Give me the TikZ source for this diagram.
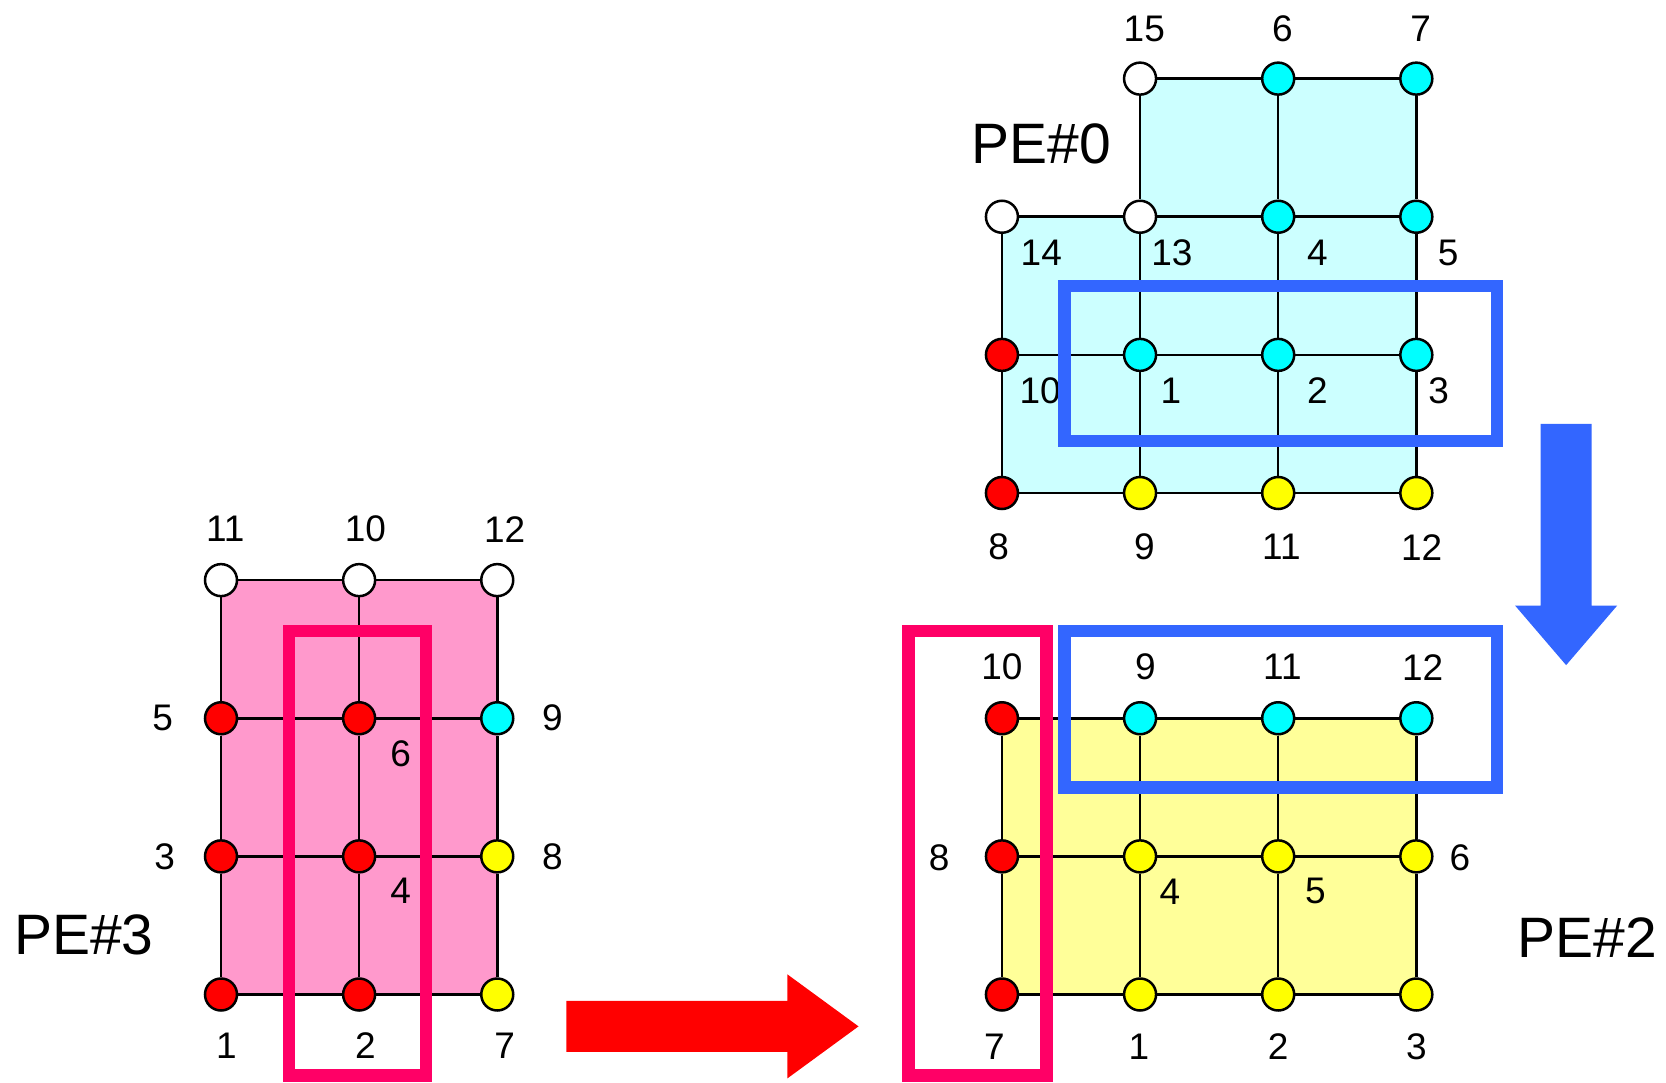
\documentclass[tikz,border=0pt]{standalone}
\usepackage{fontspec}
\setmainfont{Liberation Sans}
\usepackage{xcolor}
\definecolor{cyanfill}{HTML}{CCFFFF}
\definecolor{yelfill}{HTML}{FFFF99}
\definecolor{pinkfill}{HTML}{FF99CC}
\definecolor{pinkline}{HTML}{FF0066}
\definecolor{blueline}{HTML}{3366FF}
\definecolor{vcyan}{HTML}{00FFFF}
\definecolor{vyellow}{HTML}{FFFF00}
\definecolor{vred}{HTML}{FF0000}
\tikzset{
  vtx/.style={circle, draw, line width=2.5pt, minimum size=32pt, inner sep=0pt},
  mesh/.style={line width=2.5pt},
  num/.style={font=\fontsize{37}{40}\selectfont, inner sep=0pt},
  pelabel/.style={font=\fontsize{57}{60}\selectfont, inner sep=0pt},
  sendbox/.style={draw=pinkline, line width=12.5pt},
  recvbox/.style={draw=blueline, line width=12.5pt},
}

\begin{document}
\begin{tikzpicture}[x=1.0625pt, y=-1.0625pt]
  \useasboundingbox (0,0) rectangle (1568,1019);
  \fill[cyanfill] (943,204) -- (1073,204) -- (1073,74) -- (1333,74) -- (1333,464) -- (943,464) -- cycle;
  \fill[yelfill] (943,676) rectangle (1333,936);
  \fill[pinkfill] (208,546) rectangle (468,936);

  \foreach \x/\y/\n/\c in {1073/74/15/white, 1203/74/6/vcyan, 1333/74/7/vcyan,
      943/204/14/white, 1073/204/13/white, 1203/204/4/vcyan, 1333/204/5/vcyan,
      943/334/10/vred, 1073/334/1/vcyan, 1203/334/2/vcyan, 1333/334/3/vcyan,
      943/464/8/vred, 1073/464/9/vyellow, 1203/464/11/vyellow, 1333/464/12/vyellow}
    \node[vtx, fill=\c] (P0n\n) at (\x,\y) {};
  \foreach \x/\y/\n/\c in {943/676/10/vred, 1073/676/9/vcyan, 1203/676/11/vcyan, 1333/676/12/vcyan,
      943/806/8/vred, 1073/806/4/vyellow, 1203/806/5/vyellow, 1333/806/6/vyellow,
      943/936/7/vred, 1073/936/1/vyellow, 1203/936/2/vyellow, 1333/936/3/vyellow}
    \node[vtx, fill=\c] (P2n\n) at (\x,\y) {};
  \foreach \x/\y/\n/\c in {208/546/11/white, 338/546/10/white, 468/546/12/white,
      208/676/5/vred, 338/676/6/vred, 468/676/9/vcyan,
      208/806/3/vred, 338/806/4/vred, 468/806/8/vyellow,
      208/936/1/vred, 338/936/2/vred, 468/936/7/vyellow}
    \node[vtx, fill=\c] (P3n\n) at (\x,\y) {};

  \draw[mesh] (P0n15) -- (P0n6) -- (P0n7);
  \draw[mesh] (P0n14) -- (P0n13) -- (P0n4) -- (P0n5);
  \draw[mesh] (P0n10) -- (P0n1) -- (P0n2) -- (P0n3);
  \draw[mesh] (P0n8) -- (P0n9) -- (P0n11) -- (P0n12);
  \draw[mesh] (P0n14) -- (P0n10) -- (P0n8);
  \draw[mesh] (P0n15) -- (P0n13) -- (P0n1) -- (P0n9);
  \draw[mesh] (P0n6) -- (P0n4) -- (P0n2) -- (P0n11);
  \draw[mesh] (P0n7) -- (P0n5) -- (P0n3) -- (P0n12);

  \draw[mesh] (P2n10) -- (P2n9) -- (P2n11) -- (P2n12);
  \draw[mesh] (P2n8) -- (P2n4) -- (P2n5) -- (P2n6);
  \draw[mesh] (P2n7) -- (P2n1) -- (P2n2) -- (P2n3);
  \draw[mesh] (P2n10) -- (P2n8) -- (P2n7);
  \draw[mesh] (P2n9) -- (P2n4) -- (P2n1);
  \draw[mesh] (P2n11) -- (P2n5) -- (P2n2);
  \draw[mesh] (P2n12) -- (P2n6) -- (P2n3);

  \draw[mesh] (P3n11) -- (P3n10) -- (P3n12);
  \draw[mesh] (P3n5) -- (P3n6) -- (P3n9);
  \draw[mesh] (P3n3) -- (P3n4) -- (P3n8);
  \draw[mesh] (P3n1) -- (P3n2) -- (P3n7);
  \draw[mesh] (P3n11) -- (P3n5) -- (P3n3) -- (P3n1);
  \draw[mesh] (P3n10) -- (P3n6) -- (P3n4) -- (P3n2);
  \draw[mesh] (P3n12) -- (P3n9) -- (P3n8) -- (P3n7);

  \foreach \x/\y/\t in {1077/27/15, 1207/27/6, 1337/27/7,
      980/238/14, 1103/238/13, 1240/238/4, 1363/238/5,
      979/368/10, 1102/368/1, 1240/368/2, 1354/368/3,
      940/515/8, 1077/515/9, 1206/515/11, 1338/515/12}
    \node[num] (P0t\t) at (\x,\y) {\t};
  \foreach \x/\y/\t in {943/628/10, 1078/628/9, 1207/628/11, 1339/628/12,
      884/807/8, 1374/807/6, 1101/839/4, 1238/839/5,
      936/985/7, 1072/985/1, 1203/985/2, 1333/985/3}
    \node[num] (P2t\t) at (\x,\y) {\t};
  \foreach \x/\y/\t in {212/498/11, 344/498/10, 475/498/12,
      153/676/5, 520/676/9, 377/709/6,
      155/806/3, 520/806/8, 377/838/4,
      213/984/1, 344/984/2, 475/984/7}
    \node[num] (P3t\t) at (\x,\y) {\t};

  \node[pelabel] (pe0) at (980,135) {PE\#0};
  \node[pelabel] (pe2) at (1494,882) {PE\#2};
  \node[pelabel] (pe3) at (79,880) {PE\#3};

  \draw[recvbox] (1002,269) rectangle (1409,415);
  \draw[recvbox] (1002,594) rectangle (1409,741);
  \draw[sendbox] (855,594) rectangle (985,1012);
  \draw[sendbox] (272,594) rectangle (401,1012);

  \fill[vred] (533,942) -- (741,942) -- (741,917) -- (808,966) -- (741,1015) -- (741,990) -- (533,990) -- cycle;
  \fill[blueline] (1450,399) -- (1498,399) -- (1498,570) -- (1522,570) -- (1474,626) -- (1426,570) -- (1450,570) -- cycle;
\end{tikzpicture}
\end{document}
